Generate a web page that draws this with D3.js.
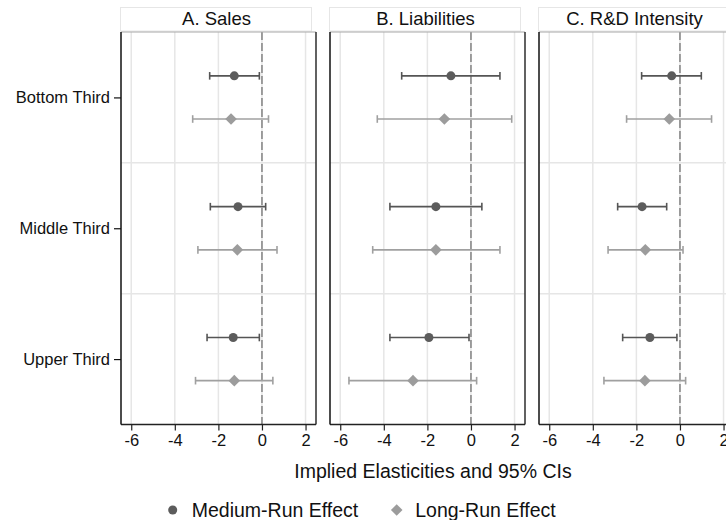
<!DOCTYPE html>
<html>
<head>
<meta charset="utf-8">
<script src="https://cdn.jsdelivr.net/npm/d3@7"></script>
<style>
  body { margin: 0; background: #fff; }
  svg { display: block; font-family: "Liberation Sans", Arial, sans-serif; }
</style>
</head>
<body>
<svg id="canvas" width="726" height="520"></svg>
<script>
// categories and panels
const groups = ["Bottom Third", "Middle Third", "Upper Third"];
const panels = ["A. Sales", "B. Liabilities", "C. R&D Intensity"];
const xTicks = [-6, -4, -2, 0, 2];

// point estimates and 95% CI bounds, one row per panel, one value per group
const mediumEst = [[-1.27, -1.10, -1.32], [-0.92, -1.61, -1.93], [-0.38, -1.74, -1.38]];
const mediumLo  = [[-2.40, -2.37, -2.52], [-3.18, -3.72, -3.72], [-1.76, -2.86, -2.63]];
const mediumHi  = [[-0.12, 0.17, -0.12], [1.33, 0.50, -0.09], [0.98, -0.61, -0.14]];
const longEst   = [[-1.42, -1.13, -1.27], [-1.22, -1.61, -2.66], [-0.49, -1.59, -1.61]];
const longLo    = [[-3.18, -2.94, -3.05], [-4.30, -4.51, -5.60], [-2.45, -3.30, -3.49]];
const longHi    = [[0.30, 0.69, 0.50], [1.87, 1.33, 0.26], [1.45, 0.14, 0.26]];

const series = [
  { name: "Medium-Run Effect", est: mediumEst, lo: mediumLo, hi: mediumHi, offset: -0.165, color: "#5c5c5c", line: "#555", shape: "circle" },
  { name: "Long-Run Effect", est: longEst, lo: longLo, hi: longHi, offset: 0.165, color: "#9c9c9c", line: "#a0a0a0", shape: "diamond" }
];

const svg = d3.select("svg#canvas");

const plotTop = 32, plotBottom = 424.5;
const panelW = 195, panelStep = 209, firstLeft = 121;

const y = d3.scaleLinear().domain([0.5, 3.5]).range([plotTop, plotBottom]);

function marker(sel, shape, color) {
  if (shape === "circle") {
    sel.append("circle").attr("r", 4.5).attr("fill", color);
  } else {
    sel.append("path").attr("d", "M0,-5.8L5.8,0L0,5.8L-5.8,0Z").attr("fill", color);
  }
}

panels.forEach((title, p) => {
  const left = firstLeft + p * panelStep;
  const x = d3.scaleLinear().domain([-6.47, 2.48]).range([left, left + panelW]);
  const g = svg.append("g");

  // header strip
  g.append("rect")
    .attr("x", left - 0.5).attr("y", 7.5)
    .attr("width", panelW - 4).attr("height", 23.5)
    .attr("fill", "#fff").attr("stroke", "#e6e6e6");
  g.append("text")
    .attr("x", left + (panelW - 4) / 2).attr("y", 25)
    .attr("text-anchor", "middle").attr("font-size", 18.5).attr("fill", "#111")
    .text(title);

  // grid lines
  g.selectAll(".vgrid").data(xTicks).enter().append("line")
    .attr("x1", (d) => x(d)).attr("x2", (d) => x(d))
    .attr("y1", plotTop).attr("y2", plotBottom)
    .attr("stroke", "#e6e6e6").attr("stroke-width", 1.5);
  g.selectAll(".hgrid").data([1.5, 2.5]).enter().append("line")
    .attr("x1", left).attr("x2", left + panelW)
    .attr("y1", (d) => y(d)).attr("y2", (d) => y(d))
    .attr("stroke", "#e6e6e6").attr("stroke-width", 1.5);

  // zero reference line
  g.append("line")
    .attr("x1", x(0)).attr("x2", x(0)).attr("y1", plotTop).attr("y2", plotBottom)
    .attr("stroke", "#8a8a8a").attr("stroke-width", 1.6).attr("stroke-dasharray", "8,3");

  // frame: top and right
  g.append("line").attr("x1", left).attr("x2", left + panelW).attr("y1", plotTop).attr("y2", plotTop)
    .attr("stroke", "#a8a8a8").attr("stroke-width", 1.2);
  g.append("line").attr("x1", left + panelW).attr("x2", left + panelW).attr("y1", plotTop).attr("y2", plotBottom)
    .attr("stroke", "#3a3a3a").attr("stroke-width", 1.6);

  // x axis
  const xAxis = g.append("g")
    .attr("transform", `translate(0,${plotBottom})`)
    .call(d3.axisBottom(x).tickValues(xTicks).tickSize(6).tickPadding(4).tickFormat((d) => String(d)));
  xAxis.select(".domain").attr("stroke", "#222").attr("stroke-width", 1.5)
    .attr("d", `M${left},0H${left + panelW}`);
  xAxis.selectAll(".tick line").attr("stroke", "#222").attr("stroke-width", 1.2);
  xAxis.selectAll(".tick text").attr("font-size", 16.5).attr("fill", "#111")
    .attr("font-family", "Liberation Sans, Arial, sans-serif");

  // y axis (line on every panel, labels on first)
  const yAxis = g.append("g")
    .attr("transform", `translate(${left},0)`)
    .call(d3.axisLeft(y).tickValues(p === 0 ? [1, 2, 3] : []).tickSize(7).tickPadding(4)
      .tickFormat((d) => groups[d - 1]));
  yAxis.select(".domain").attr("stroke", "#111").attr("stroke-width", 1.5)
    .attr("d", `M0,${plotTop}V${plotBottom}`);
  yAxis.selectAll(".tick line").attr("stroke", "#111").attr("stroke-width", 1.2);
  yAxis.selectAll(".tick text").attr("font-size", 16.5).attr("fill", "#111")
    .attr("font-family", "Liberation Sans, Arial, sans-serif");

  // estimates with CIs
  series.forEach((s) => {
    groups.forEach((grp, i) => {
      const yy = y(i + 1 + s.offset);
      const x0 = x(s.lo[p][i]), x1 = x(s.hi[p][i]);
      const ci = g.append("g").attr("stroke", s.line).attr("stroke-width", 1.6);
      ci.append("line").attr("x1", x0).attr("x2", x1).attr("y1", yy).attr("y2", yy);
      ci.append("line").attr("x1", x0).attr("x2", x0).attr("y1", yy - 3.8).attr("y2", yy + 3.8);
      ci.append("line").attr("x1", x1).attr("x2", x1).attr("y1", yy - 3.8).attr("y2", yy + 3.8);
      const m = g.append("g").attr("transform", `translate(${x(s.est[p][i])},${yy})`);
      marker(m, s.shape, s.color);
    });
  });
});

// shared x-axis title
svg.append("text")
  .attr("x", 433).attr("y", 478)
  .attr("text-anchor", "middle").attr("font-size", 19.5).attr("fill", "#111")
  .text("Implied Elasticities and 95% CIs");

// legend
const legendX = [172.7, 396.7];
series.forEach((s, k) => {
  const lg = svg.append("g").attr("transform", `translate(${legendX[k]},510)`);
  marker(lg, s.shape, s.color);
  lg.append("text").attr("x", k === 0 ? 19 : 18.5).attr("y", 6.5)
    .attr("font-size", 19.5).attr("fill", "#111").text(s.name);
});
</script>
</body>
</html>
